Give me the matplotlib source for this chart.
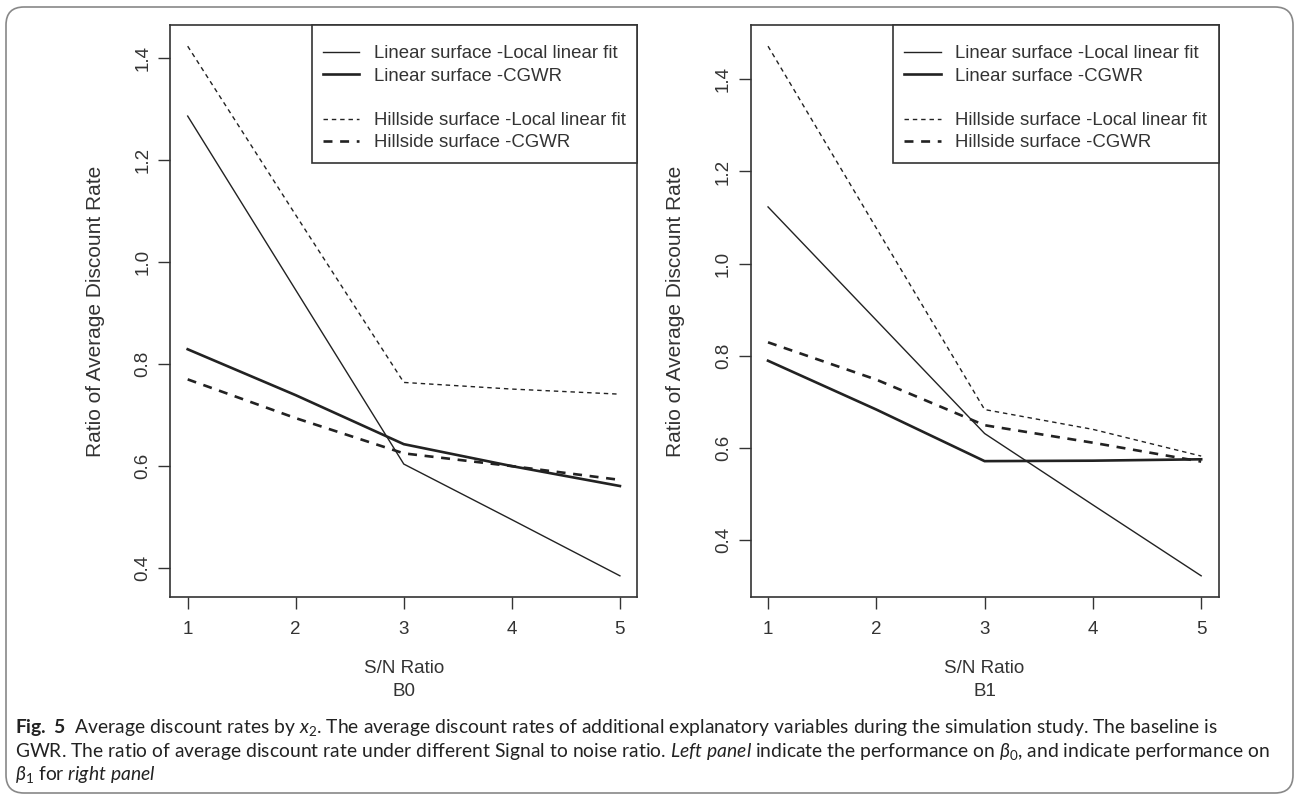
import matplotlib
matplotlib.use("Agg")
import matplotlib.pyplot as plt
from matplotlib.lines import Line2D
from matplotlib.patches import FancyBboxPatch
from matplotlib.transforms import IdentityTransform

plt.rcParams['font.family'] = ['Liberation Sans', 'DejaVu Sans']
plt.rcParams['mathtext.fontset'] = 'custom'
plt.rcParams['mathtext.rm'] = 'Lato'
plt.rcParams['mathtext.it'] = 'Lato:italic'
plt.rcParams['mathtext.bf'] = 'Lato:bold'

# S/N ratio levels
sn_ratio = [1, 2, 3, 4, 5]

# B0 panel
lin_llf_b0 = [1.286, 0.945, 0.604, 0.495, 0.385]
lin_cgwr_b0 = [0.829, 0.739, 0.643, 0.600, 0.561]
hill_llf_b0 = [1.423, 1.092, 0.764, 0.751, 0.741]
hill_cgwr_b0 = [0.770, 0.694, 0.625, 0.600, 0.573]

# B1 panel
lin_llf_b1 = [1.123, 0.877, 0.631, 0.476, 0.322]
lin_cgwr_b1 = [0.789, 0.683, 0.571, 0.572, 0.575]
hill_llf_b1 = [1.472, 1.077, 0.683, 0.640, 0.582]
hill_cgwr_b1 = [0.829, 0.748, 0.649, 0.611, 0.570]

labels = ["Linear surface -Local linear fit", "Linear surface -CGWR",
          "Hillside surface -Local linear fit", "Hillside surface -CGWR"]
panel_names = ["B0", "B1"]

ink = '#222222'
styles = [dict(lw=1.0, ls='-'),
          dict(lw=1.9, ls='-'),
          dict(lw=1.0, ls=(0, (3.2, 2.8))),
          dict(lw=1.9, ls=(0, (3.4, 2.9)))]

W, H = 1295, 794
fig = plt.figure(figsize=(W / 100, H / 100), dpi=100)

boxes = [[170.4 / W, 1 - 597 / H, 466.8 / W, 572 / H],
         [750.7 / W, 1 - 597 / H, 467.8 / W, 572 / H]]
panels = [[lin_llf_b0, lin_cgwr_b0, hill_llf_b0, hill_cgwr_b0],
          [lin_llf_b1, lin_cgwr_b1, hill_llf_b1, hill_cgwr_b1]]

for box, series, name in zip(boxes, panels, panel_names):
    ax = fig.add_axes(box)
    handles = []
    for ys, st, lab in zip(series, styles, labels):
        h, = ax.plot(sn_ratio, ys, color=ink, solid_joinstyle='miter', label=lab, **st)
        handles.append(h)
    # R-style 4% padding
    lo = min(min(s) for s in series)
    hi = max(max(s) for s in series)
    pad = (hi - lo) * 0.04
    ax.set_ylim(lo - pad, hi + pad)
    ax.set_xlim(1 - 0.16, 5 + 0.16)
    ax.set_xticks(sn_ratio)
    ax.set_yticks([0.4, 0.6, 0.8, 1.0, 1.2, 1.4])
    ax.set_yticklabels(['0.4', '0.6', '0.8', '1.0', '1.2', '1.4'],
                       rotation=90, va='center')
    ax.tick_params(direction='out', length=8.5, width=1.0, colors='#333333',
                   labelsize=13.5)
    ax.tick_params(axis='x', pad=9)
    ax.tick_params(axis='y', pad=5)
    for sp in ax.spines.values():
        sp.set_color('#333333')
        sp.set_linewidth(1.2)
    ax.set_ylabel("Ratio of Average Discount Rate", fontsize=15, color='#333333',
                  va='center')
    ax.yaxis.set_label_coords(-75 / 467, 0.5)
    ax.set_xlabel("S/N Ratio\n" + name, fontsize=13.5, color='#333333',
                  va='center', linespacing=1.4)
    ax.xaxis.set_label_coords(0.5, -83 / 572)

    blank = Line2D([], [], color='none')
    hs = handles[:2] + [blank] + handles[2:]
    ls = labels[:2] + [' '] + labels[2:]
    leg = ax.legend(hs, ls, loc='upper right', borderaxespad=0, fancybox=False,
                    edgecolor='#333333', fontsize=13.4, handlelength=1.94,
                    handletextpad=0.8, labelspacing=0.28, borderpad=0.6,
                    framealpha=1, title=' ', title_fontsize=2)
    leg.get_frame().set_linewidth(1.2)
    for t in leg.get_texts():
        t.set_color('#333333')

# outer rounded border
fig.add_artist(FancyBboxPatch((6, 1), 1287, 786,
                              boxstyle='round,pad=0,rounding_size=18',
                              transform=IdentityTransform(), fill=False,
                              edgecolor='#888888', lw=1.2))

# caption
cap = dict(fontsize=13.9, family=['Lato', 'DejaVu Sans'], color='#222222',
           va='baseline', ha='left')
x0 = 15 / W
fig.text(x0, 1 - 733 / H,
         r"$\mathbf{Fig.\ 5}$  Average discount rates by $\mathit{x}_{2}$. The average discount "
         "rates of additional explanatory variables during the simulation study. The baseline is",
         **cap)
fig.text(x0, 1 - 757 / H,
         r"GWR. The ratio of average discount rate under different Signal to noise ratio. "
         r"$\mathit{Left\ panel}$ indicate the performance on $\beta_{0}$, and indicate performance on",
         **cap)
fig.text(x0, 1 - 780 / H, r"$\beta_{1}$ for $\mathit{right\ panel}$", **cap)

fig.savefig("out.png", dpi=100)
